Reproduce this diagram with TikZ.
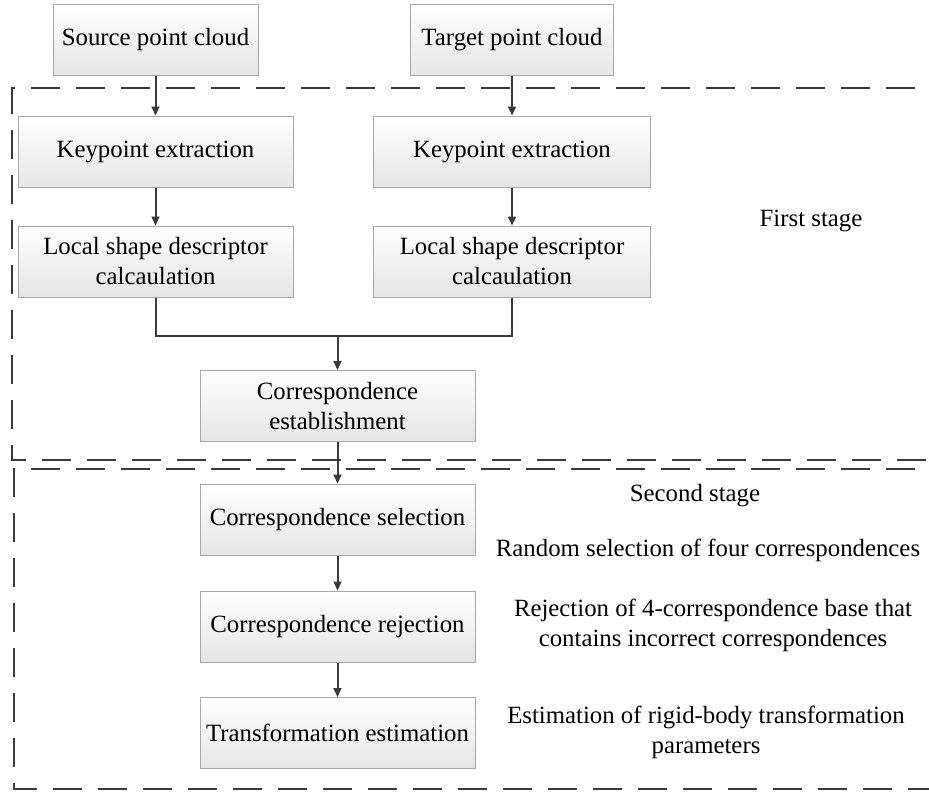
\documentclass[tikz,border=0pt]{standalone}
\usepackage{fontspec}
\setmainfont{Liberation Serif}
\usetikzlibrary{arrows.meta}
\definecolor{linec}{HTML}{3A3A3A}
\definecolor{boxborder}{HTML}{A8A8A8}
\begin{document}
\begin{tikzpicture}[x=1pt,y=-1pt,
  procbox/.style={draw=boxborder, line width=1pt, top color=white, bottom color=black!10,
    minimum height=71pt, align=center, inner sep=2pt,
    font=\fontsize{24.8}{30}\selectfont},
  arr/.style={draw=linec, line width=2pt, -{Triangle[length=9pt,width=8pt]}},
  conn/.style={draw=linec, line width=2pt},
  stagebox/.style={draw=linec, line width=2pt, dash pattern=on 29pt off 16pt},
  lbl/.style={align=center, font=\fontsize{24.8}{30}\selectfont, inner sep=0pt}]
\useasboundingbox (0,0) rectangle (929,795);
\clip (0,0) rectangle (929,795);
\fill[white] (0,0) rectangle (929,795);
% stage frames
\draw[stagebox] (960,88) -- (12,88) -- (12,460) -- (960,460);
\draw[stagebox] (960,469) -- (14,469) -- (14,789) -- (960,789);
% boxes
\node[procbox, minimum width=205pt] (src) at (155.5,39.5) {Source point cloud};
\node[procbox, minimum width=203pt] (tgt) at (512,39.5) {Target point cloud};
\node[procbox, minimum width=275pt] (kp1) at (155.5,151.5) {Keypoint extraction};
\node[procbox, minimum width=277pt] (kp2) at (512,151.5) {Keypoint extraction};
\node[procbox, minimum width=275pt] (ls1) at (155.5,261.5) {Local shape descriptor\\calcaulation};
\node[procbox, minimum width=277pt] (ls2) at (512,261.5) {Local shape descriptor\\calcaulation};
\node[procbox, minimum width=275pt] (ce) at (337.5,406) {Correspondence\\establishment};
\node[procbox, minimum width=275pt] (cs) at (337.5,519.5) {Correspondence selection};
\node[procbox, minimum width=275pt] (cr) at (337.5,626.5) {Correspondence rejection};
\node[procbox, minimum width=275pt] (te) at (337.5,733) {Transformation estimation};
% connectors
\draw[arr] (src) -- (kp1);
\draw[arr] (tgt) -- (kp2);
\draw[arr] (kp1) -- (ls1);
\draw[arr] (kp2) -- (ls2);
\coordinate (j) at (337.5,336);
\draw[conn] (ls1.south) |- (j);
\draw[conn] (ls2.south) |- (j);
\draw[arr] (j) -- (ce.north);
\draw[arr] (ce) -- (cs);
\draw[arr] (cs) -- (cr);
\draw[arr] (cr) -- (te);
% labels
\node[lbl] (first) at (811,221) {First stage};
\node[lbl] (second) at (695,496) {Second stage};
\node[lbl] (d1) at (708,550) {Random selection of four correspondences};
\node[lbl] (d2) at (713,625) {Rejection of 4-correspondence base that\\contains incorrect correspondences};
\node[lbl] (d3) at (706,732) {Estimation of rigid-body transformation\\parameters};
\end{tikzpicture}
\end{document}
